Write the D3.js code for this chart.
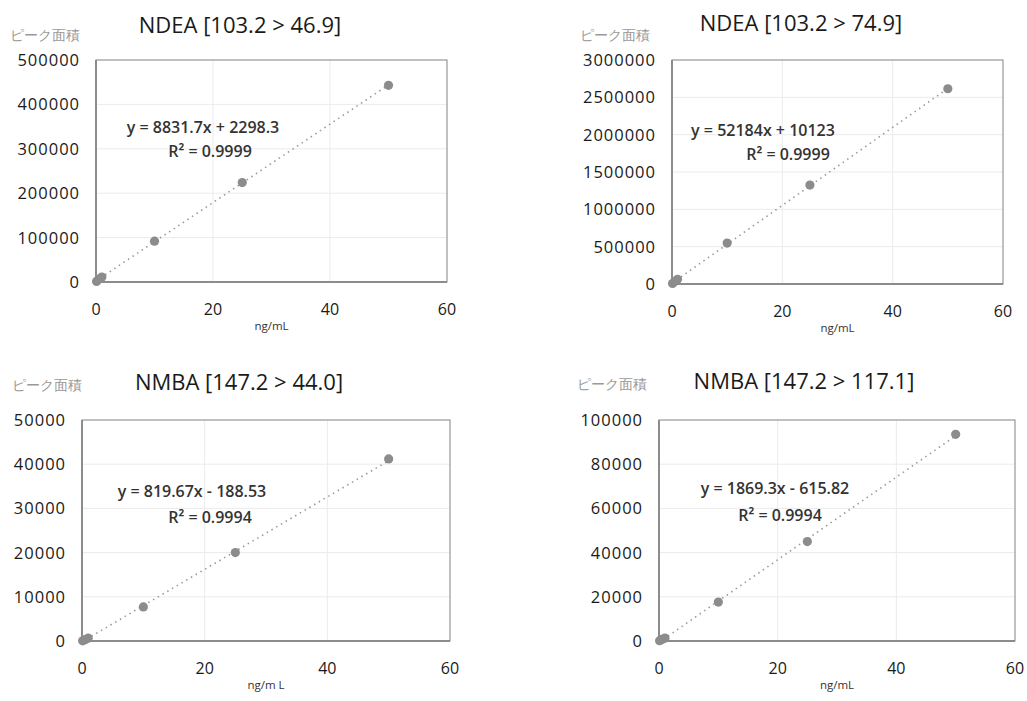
<!DOCTYPE html>
<html>
<head>
<meta charset="utf-8">
<script src="https://cdn.jsdelivr.net/npm/d3@7"></script>
<style>
  body { margin: 0; background: #fff; }
  text { font-family: "Open Sans", "Noto Sans", sans-serif; }
</style>
</head>
<body>
<svg id="chart" width="1027" height="701"></svg>
<script>
// data
const titles = ["NDEA [103.2 > 46.9]", "NDEA [103.2 > 74.9]", "NMBA [147.2 > 44.0]", "NMBA [147.2 > 117.1]"];
const xLabels = ["ng/mL", "ng/mL", "ng/m L", "ng/mL"];
const yLabel = "ピーク面積";
const conc = [0.1, 0.5, 1, 10, 25, 50];
const areaNdea46 = [1200, 6500, 11000, 92000, 224000, 443000];
const areaNdea74 = [7000, 35000, 62000, 548000, 1325000, 2615000];
const areaNmba44 = [50, 300, 650, 7700, 20000, 41200];
const areaNmba117 = [150, 700, 1300, 17600, 45000, 93500];
const slopes = [8831.7, 52184, 819.67, 1869.3];
const intercepts = [2298.3, 10123, -188.53, -615.82];
const equations = ["y = 8831.7x + 2298.3", "y = 52184x + 10123", "y = 819.67x - 188.53", "y = 1869.3x - 615.82"];
const r2Labels = ["R² = 0.9999", "R² = 0.9999", "R² = 0.9994", "R² = 0.9994"];
const yMax = [500000, 3000000, 50000, 100000];
const yStep = [100000, 500000, 10000, 20000];
const xTicks = [0, 20, 40, 60];

const series = [areaNdea46, areaNdea74, areaNmba44, areaNmba117];

// layout of each panel (plot box, title, equation positions)
const panels = [
  { x0: 96,  x1: 447,  y0: 60,  y1: 282, tx: 240, ty: 33, lx: 10,  ly: 40,  ex: 203, ey: 133, rx: 210, ry: 157 },
  { x0: 672, x1: 1003, y0: 60,  y1: 284, tx: 801, ty: 31, lx: 580, ly: 40,  ex: 763, ey: 136, rx: 788, ry: 160 },
  { x0: 82,  x1: 450,  y0: 420, y1: 641, tx: 239, ty: 390, lx: 12, ly: 390, ex: 192, ey: 497, rx: 210, ry: 523 },
  { x0: 659, x1: 1015, y0: 420, y1: 641, tx: 804, ty: 389, lx: 577, ly: 389, ex: 775, ey: 494, rx: 780, ry: 521 }
];

const svg = d3.select("#chart");

panels.forEach((p, i) => {
  const g = svg.append("g");
  const x = d3.scaleLinear().domain([0, 60]).range([p.x0, p.x1]);
  const y = d3.scaleLinear().domain([0, yMax[i]]).range([p.y1, p.y0]);
  const yTicks = d3.range(0, yMax[i] + 1, yStep[i]);

  // gridlines
  g.selectAll(".hgrid").data(yTicks.slice(1)).join("line")
    .attr("x1", p.x0).attr("x2", p.x1)
    .attr("y1", d => y(d)).attr("y2", d => y(d))
    .attr("stroke", "#ebebeb");
  g.selectAll(".vgrid").data(xTicks.slice(1)).join("line")
    .attr("x1", d => x(d)).attr("x2", d => x(d))
    .attr("y1", p.y0).attr("y2", p.y1)
    .attr("stroke", "#ebebeb");

  // frame
  g.append("rect")
    .attr("x", p.x0).attr("y", p.y0)
    .attr("width", p.x1 - p.x0).attr("height", p.y1 - p.y0)
    .attr("fill", "none").attr("stroke", "#8c8c8c").attr("stroke-width", 1);
  g.append("path")
    .attr("d", `M${p.x0},${p.y0}V${p.y1}H${p.x1}`)
    .attr("fill", "none").attr("stroke", "#8c8c8c").attr("stroke-width", 2);

  // y ticks
  g.selectAll(".ytick").data(yTicks).join("text")
    .attr("x", p.x0 - 16).attr("y", d => y(d) + 6)
    .attr("text-anchor", "end")
    .attr("font-size", 16.5).attr("letter-spacing", 1).attr("fill", "#1a1a1a")
    .text(d => d);

  // x ticks
  g.selectAll(".xtick").data(xTicks).join("text")
    .attr("x", d => x(d)).attr("y", p.y1 + 33)
    .attr("text-anchor", "middle")
    .attr("font-size", 16).attr("fill", "#1a1a1a")
    .text(d => d);

  g.append("text")
    .attr("x", (p.x0 + p.x1) / 2).attr("y", p.y1 + 48)
    .attr("text-anchor", "middle")
    .attr("font-size", 11.5).attr("fill", "#333")
    .text(xLabels[i]);

  g.append("text")
    .attr("x", p.lx).attr("y", p.ly)
    .attr("font-family", "'Noto Sans CJK JP', sans-serif")
    .attr("font-size", 14).attr("font-weight", 300).attr("fill", "#999")
    .text(yLabel);

  g.append("text")
    .attr("x", p.tx).attr("y", p.ty)
    .attr("text-anchor", "middle")
    .attr("font-size", 22).attr("fill", "#1a1a1a")
    .text(titles[i]);

  // trendline
  const fit = [0, 50].map(c => [c, slopes[i] * c + intercepts[i]]);
  g.append("path")
    .attr("d", d3.line().x(d => x(d[0])).y(d => y(d[1]))(fit))
    .attr("fill", "none").attr("stroke", "#9a9a9a")
    .attr("stroke-width", 1.6).attr("stroke-dasharray", "1.5,4");

  // points
  g.selectAll(".pt").data(conc).join("circle")
    .attr("cx", d => x(d)).attr("cy", (d, j) => y(series[i][j]))
    .attr("r", 4.6).attr("fill", "#8c8c8c");

  g.append("text")
    .attr("x", p.ex).attr("y", p.ey)
    .attr("text-anchor", "middle")
    .attr("font-size", 16).attr("font-weight", 600).attr("fill", "#333")
    .text(equations[i]);
  g.append("text")
    .attr("x", p.rx).attr("y", p.ry)
    .attr("text-anchor", "middle")
    .attr("font-size", 16).attr("font-weight", 600).attr("fill", "#333")
    .text(r2Labels[i]);
});
</script>
</body>
</html>
